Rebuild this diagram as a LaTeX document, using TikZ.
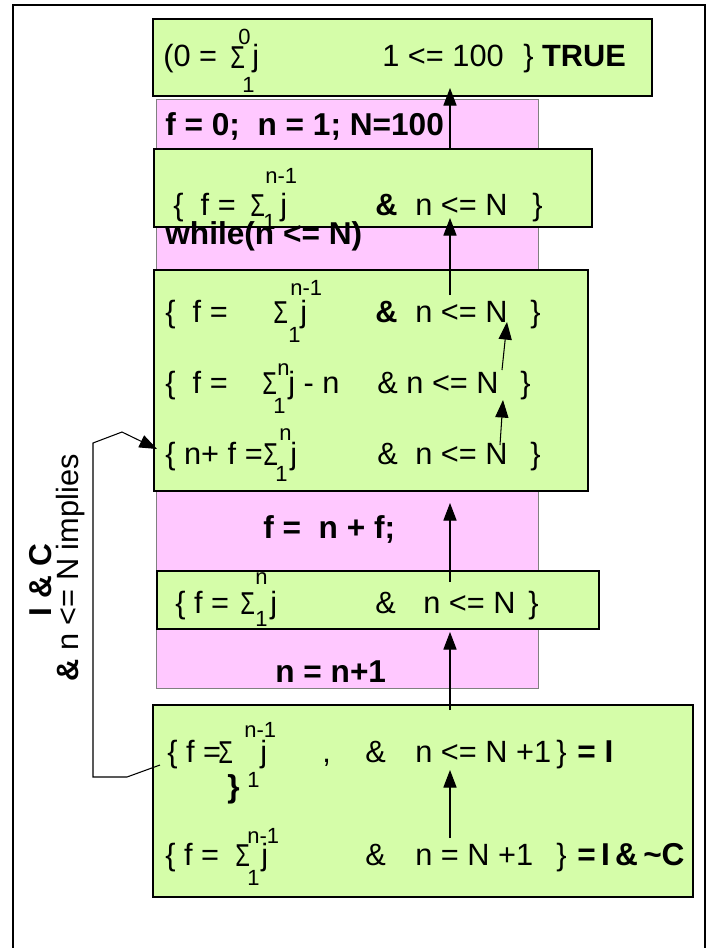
\documentclass[tikz,border=0pt]{standalone}
\usepackage{fontspec}
\setmainfont{Liberation Sans}
\usetikzlibrary{arrows.meta}
\definecolor{AssertGreen}{HTML}{D5FDA9}
\definecolor{CodePink}  {HTML}{FFC8FF}
\tikzset{
  every node/.style={inner sep=0pt, anchor=base west,
                     font=\fontsize{17.5}{20}\selectfont},
  % limits and sigma of the sums
  lim/.style={font=\fontsize{12.5}{14}\selectfont},
  sig/.style={font=\fontsize{18}{20}\selectfont, xscale=0.75},
  code/.style={font=\fontsize{18}{21}\selectfont\bfseries},
  assert/.style={draw=black, line width=1.3pt, fill=AssertGreen},
  flow/.style={-{Triangle[length=10pt,width=7.5pt]}, line width=0.6pt},
}
\begin{document}
\begin{tikzpicture}[x=0.02cm, y=-0.02cm]
\useasboundingbox (0,0) rectangle (712,948);
\draw[line width=1.2pt] (13,948) -- (13,5) -- (705,5) -- (705,948);
% program column
\draw[fill=CodePink, draw=gray, line width=0.4pt] (156,99) rectangle (538,688);
% assertions
\draw[assert] (153,19) rectangle (652,96);
\draw[assert] (154,149) rectangle (592,227);
\draw[assert] (154,270) rectangle (588,491);
\draw[assert] (157,571) rectangle (599,629);
\draw[assert] (153,705) rectangle (693,897);
% program text
\node[code] (init)  at (165,135) {f = 0;\ \ n = 1; N=100};
\node[code] (loop)  at (165,244) {while(n <= N)};
\node[code] (body1) at (263,538) {f =\ \ n + f;};
\node[code] (body2) at (275,682) {n = n+1};
% top
\node (t0a) at (163,66) {(0 =};
\node[sig] (t0s) at (230,68) {Σ};
\node[lim] (t0u) at (238,44) {0};
\node[lim] (t0l) at (242,92) {1};
\node (t0j) at (252,66) {j};
\node (t0b) at (382,66) {1 <= 100};
\node (t0c) at (523,66) {\} \textbf{TRUE}};
% before loop
\node (g1a) at (173,215) {\{\ \ f =};
\node[sig] (g1s) at (250,216) {Σ};
\node[lim] (g1u) at (265,183) {n-1};
\node[lim] (g1l) at (263,229) {1};
\node (g1j) at (280,215) {j};
\node (g1d) at (375,215) {\textbf{\&}};
\node (g1b) at (415,215) {n <= N};
\node (g1c) at (532,215) {\}};
% loop top, three rows
\node (g2a) at (165,322) {\{\ \ f =};
\node[sig] (g2s) at (273,323) {Σ};
\node[lim] (g2u) at (290,295) {n-1};
\node[lim] (g2l) at (288,342) {1};
\node (g2j) at (300,322) {j};
\node (g2d) at (375,322) {\textbf{\&}};
\node (g2b) at (415,322) {n <= N};
\node (g2c) at (530,322) {\}};
\node (g3a) at (165,393) {\{\ \ f =};
\node[sig] (g3s) at (262,394) {Σ};
\node[lim] (g3u) at (277,375) {n};
\node[lim] (g3l) at (273,413) {1};
\node (g3j) at (288,393) {j - n};
\node (g3b) at (377,393) {\& n <= N};
\node (g3c) at (520,393) {\}};
\node (g4a) at (165,464) {\{ n+ f =};
\node[sig] (g4s) at (263,465) {Σ};
\node[lim] (g4u) at (279,440) {n};
\node[lim] (g4l) at (275,481) {1};
\node (g4j) at (290,464) {j};
\node (g4d) at (377,464) {\&};
\node (g4b) at (415,464) {n <= N};
\node (g4c) at (530,464) {\}};
% after f = n + f
\node (g5a) at (175,613) {\{ f =};
\node[sig] (g5s) at (240,614) {Σ};
\node[lim] (g5u) at (255,584) {n};
\node[lim] (g5l) at (255,626) {1};
\node (g5j) at (270,613) {j};
\node (g5d) at (375,613) {\&};
\node (g5b) at (423,613) {n <= N};
\node (g5c) at (528,613) {\}};
% invariant and exit
\node (g6a) at (167,762) {\{ f =};
\node[sig] (g6s) at (218,763) {Σ};
\node[lim] (g6u) at (244,737) {n-1};
\node (g6j) at (260,762) {j};
\node[code] (g6r) at (227,797) {\}};
\node[lim] (g6l) at (247,787) {1};
\node (g6k) at (322,762) {,};
\node (g6d) at (365,762) {\&};
\node (g6b) at (415,762) {n <= N +1};
\node (g6c) at (556,762) {\}};
\node[code] (g6e) at (577,762) {= I};
\node (g7a) at (165,865) {\{ f =};
\node[sig] (g7s) at (235,866) {Σ};
\node[lim] (g7u) at (247,843) {n-1};
\node[lim] (g7l) at (247,885) {1};
\node (g7j) at (261,865) {j};
\node (g7d) at (365,865) {\&};
\node (g7b) at (415,865) {n = N +1};
\node (g7c) at (556,865) {\}};
\node[code] (g7e) at (577,865) {=\,I\,\&\,\textasciitilde C};
% side label
\node[code, rotate=90, anchor=center] (ic) at (41,580) {I \& C};
\node[rotate=90, anchor=center] (impl) at (71,568) {\textbf{\&} n <= N implies};
% arrow ends
\coordinate (a1s) at (450,149); \coordinate (a1e) at (450,88);
\coordinate (a2s) at (450,295); \coordinate (a2e) at (450,218);
\coordinate (a3s) at (502,370); \coordinate (a3e) at (507,322);
\coordinate (a4s) at (500,445); \coordinate (a4e) at (503,400);
\coordinate (a5s) at (450,582); \coordinate (a5e) at (450,503);
\coordinate (a6s) at (450,710); \coordinate (a6e) at (450,632);
\coordinate (a7s) at (450,838); \coordinate (a7e) at (450,770);
\coordinate (lpout) at (160,765); \coordinate (lpin) at (157,449);
\draw[flow] (a1s) -- (a1e);
\draw[flow] (a2s) -- (a2e);
\draw[flow] (a3s) -- (a3e);
\draw[flow] (a4s) -- (a4e);
\draw[flow] (a5s) -- (a5e);
\draw[flow] (a6s) -- (a6e);
\draw[flow] (a7s) -- (a7e);
\draw[flow] (lpout) -- (127,777) -- (93,777) -- (93,443) -- (122,432) -- (lpin);
\end{tikzpicture}
\end{document}
